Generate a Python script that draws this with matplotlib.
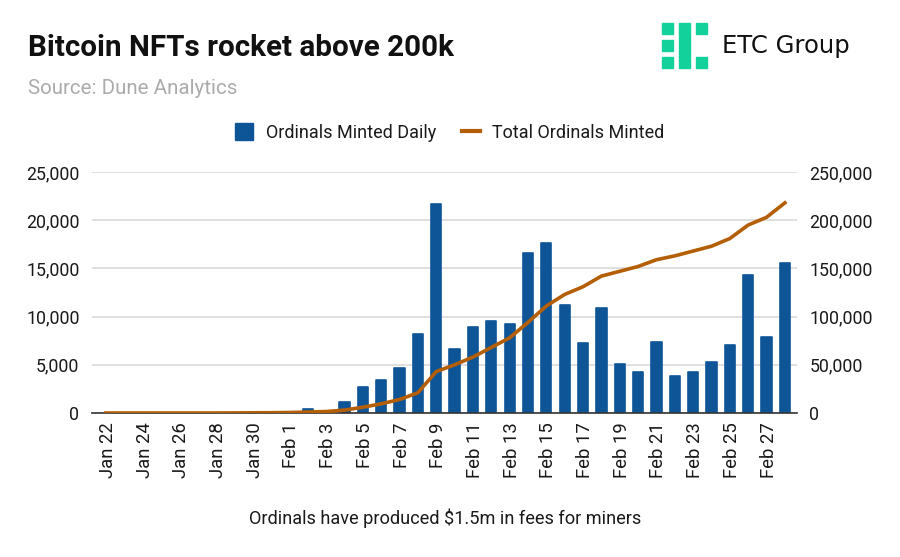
import matplotlib.pyplot as plt
from matplotlib.patches import Rectangle
from matplotlib.lines import Line2D
from matplotlib.transforms import ScaledTranslation

plt.rcParams['font.family'] = ['Roboto', 'DejaVu Sans']

# dates, one per day
dates = ['Jan %d' % d for d in range(22, 32)] + ['Feb %d' % d for d in range(1, 29)]

# daily mints
daily = [0, 0, 0, 0, 0, 0, 0, 0, 20, 30,
         120, 450, 60, 1100, 2650, 3400, 4650, 8200, 21700, 6650,
         8950, 9550, 9250, 16550, 17650, 11250, 7300, 10850, 5100, 4300,
         7400, 3850, 4300, 5250, 7100, 14350, 7900, 15600]

# running total
total = [0, 0, 0, 0, 0, 0, 0, 100, 200, 300,
         500, 1000, 1500, 3000, 6000, 9500, 14000, 21000, 43000, 50000,
         58000, 68000, 78000, 94000, 111000, 123000, 131000, 142000, 147000, 152000,
         159000, 163000, 168000, 173000, 181000, 195000, 203000, 218000]

bar_color = '#0e5597'
line_color = '#b45f06'
text_color = '#1a1a1a'

fig = plt.figure(figsize=(9, 5.57), dpi=100)
ax1 = fig.add_axes([92 / 900, 1 - 413 / 557, 705 / 900, 241 / 557])

x = list(range(len(dates)))
bars = ax1.bar(x, daily, width=0.56, color=bar_color, edgecolor=bar_color, linewidth=1.2, zorder=2)
for b, v in zip(bars, daily):
    b.set_joinstyle('round')
    if v == 0:
        b.set_visible(False)

ax1.set_xlim(-0.76, 37.66)
ax1.set_ylim(0, 25000)
ax1.set_yticks([0, 5000, 10000, 15000, 20000, 25000])
ax1.set_yticklabels(['0', '5,000', '10,000', '15,000', '20,000', '25,000'])
ax1.set_xticks(x[::2])
ax1.set_xticklabels(dates[::2], rotation=90)
ax1.tick_params(axis='y', length=0, labelsize=12.8, labelcolor=text_color, pad=9)
ax1.tick_params(axis='x', length=0, labelsize=13.3, labelcolor=text_color, pad=7)
# labels sit a little right of the tick
shift = ScaledTranslation(2 / 100, 0, fig.dpi_scale_trans)
for lab in ax1.get_xticklabels():
    lab.set_transform(lab.get_transform() + shift)
ax1.grid(axis='y', color='#d9d9d9', linewidth=1.2, zorder=0)
ax1.set_axisbelow(True)
for s in ['top', 'left', 'right']:
    ax1.spines[s].set_visible(False)
ax1.spines['bottom'].set_color('#333333')
ax1.spines['bottom'].set_linewidth(1.2)

ax2 = ax1.twinx()
ax2.plot(x, total, color=line_color, linewidth=2.6, solid_joinstyle='round', zorder=3)
ax2.set_ylim(0, 250000)
ax2.set_yticks([0, 50000, 100000, 150000, 200000, 250000])
ax2.set_yticklabels(['0', '50,000', '100,000', '150,000', '200,000', '250,000'])
ax2.tick_params(axis='y', length=0, labelsize=12.8, labelcolor=text_color, pad=9)
for s in ['top', 'left', 'right', 'bottom']:
    ax2.spines[s].set_visible(False)

# headings
fig.text(28 / 900, 1 - 48 / 557, 'Bitcoin NFTs rocket above 200k', fontsize=21.3, fontweight='bold',
         color='#111111', va='center')
fig.text(28 / 900, 1 - 88 / 557, 'Source: Dune Analytics', fontsize=14.8, color='#ababab', va='center')
fig.text(445 / 900, 1 - 518 / 557, 'Ordinals have produced $1.5m in fees for miners', fontsize=13.05,
         color=text_color, ha='center', va='center')

# legend
handles = [Rectangle((0, 0), 1, 1, color=bar_color),
           Line2D([0], [0], color=line_color, linewidth=3)]
fig.legend(handles, ['Ordinals Minted Daily', 'Total Ordinals Minted'], ncol=2, frameon=False,
           loc='center', bbox_to_anchor=(450 / 900, 1 - 132.5 / 557), fontsize=13.0,
           labelcolor=text_color, handlelength=1.0, handleheight=1.1, columnspacing=1.4, handletextpad=0.7)

# logo
logo = '#12d19b'
for (lx, ly, lw, lh) in [(662, 23, 11, 11), (662, 40, 11, 11), (662, 57, 11, 11),
                         (679, 23, 11, 45),
                         (696, 23, 11, 11), (696, 57, 11, 11)]:
    fig.add_artist(Rectangle((lx / 900, 1 - (ly + lh) / 557), lw / 900, lh / 557, color=logo,
                             transform=fig.transFigure))
fig.text(722 / 900, 1 - 46 / 557, 'ETC Group', fontsize=17.5, color='#111111', va='center', family='DejaVu Sans')

fig.savefig('out.png', dpi=100)
